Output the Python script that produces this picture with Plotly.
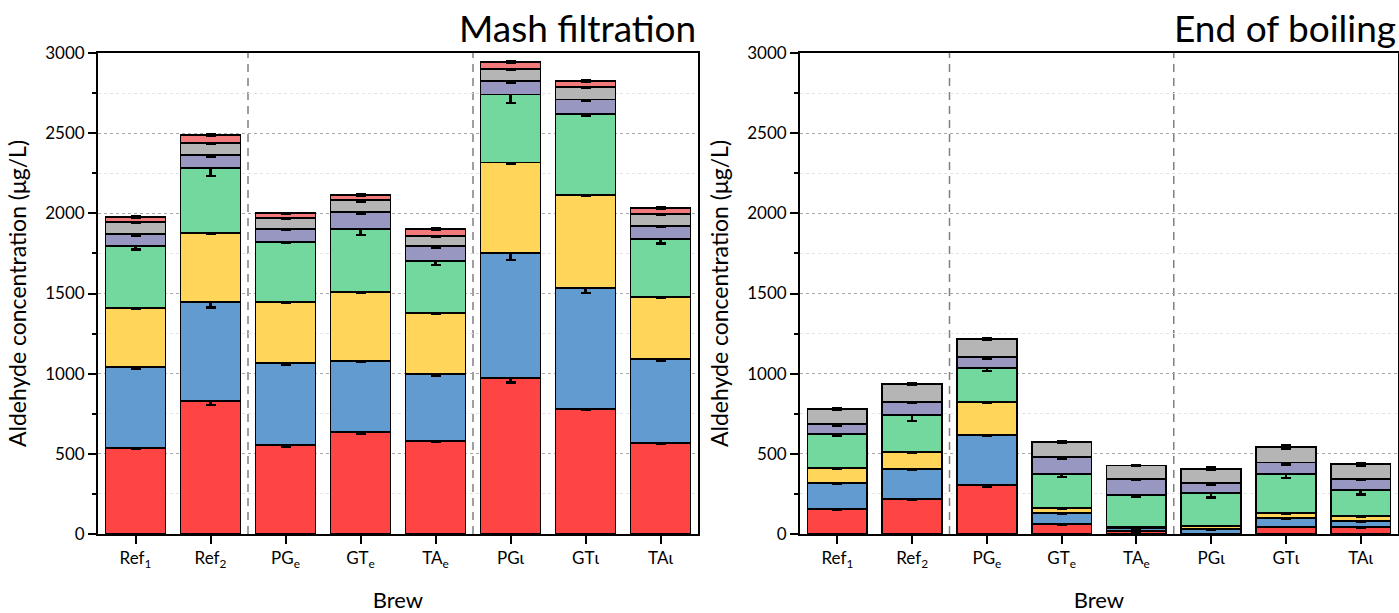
import plotly.graph_objects as go

# Brews (x categories) and tick labels
brews = ["Ref1", "Ref2", "PGe", "GTe", "TAe", "PGl", "GTl", "TAl"]
brew_labels = ["Ref<sub>1</sub>", "Ref<sub>2</sub>", "PG<sub>e</sub>", "GT<sub>e</sub>",
               "TA<sub>e</sub>", "PGι", "GTι", "TAι"]

# Stacked aldehyde contributions (µg/L), bottom to top
series_names = ["Aldehyde 1", "Aldehyde 2", "Aldehyde 3", "Aldehyde 4",
                "Aldehyde 5", "Aldehyde 6", "Aldehyde 7"]
series_colors = ["#FF4444", "#629BCF", "#FFD55A", "#72D89D", "#9797C2", "#B5B5B5", "#F27A7A"]

# Mash filtration
mash_values = [
    [536, 827, 557, 634, 582, 971, 782, 568],    # red
    [504, 620, 507, 447, 414, 779, 755, 523],    # blue
    [372, 433, 383, 426, 382, 567, 579, 385],    # yellow
    [383, 402, 375, 396, 322, 424, 503, 363],    # green
    [77, 84, 79, 107, 97, 83, 91, 84],           # purple
    [76, 75, 70, 71, 64, 79, 79, 73],            # grey
    [29, 46, 29, 35, 42, 43, 39, 35],            # pink
]
mash_errors = [
    [5, 22, 10, 12, 5, 27, 10, 8],
    [10, 34, 8, 5, 10, 41, 33, 12],
    [5, 8, 5, 5, 5, 8, 5, 5],
    [20, 48, 8, 37, 22, 51, 13, 28],
    [10, 12, 5, 12, 12, 12, 8, 10],
    [8, 8, 5, 10, 8, 10, 8, 8],
    [5, 5, 3, 5, 5, 5, 5, 5],
]

# End of boiling
boil_values = [
    [156, 219, 304, 60, 17, 3, 46, 42],
    [161, 187, 315, 69, 20, 28, 52, 41],
    [95, 104, 206, 31, 6, 21, 35, 27],
    [211, 232, 208, 215, 201, 202, 240, 165],
    [62, 83, 71, 106, 98, 63, 73, 69],
    [94, 112, 115, 92, 85, 89, 96, 91],
    [0, 0, 0, 0, 0, 0, 0, 0],
]
boil_errors = [
    [4, 6, 8, 5, 3, 2, 4, 4],
    [4, 6, 5, 4, 3, 3, 4, 4],
    [4, 4, 4, 4, 3, 3, 4, 4],
    [10, 38, 15, 20, 15, 27, 22, 28],
    [10, 8, 12, 15, 5, 8, 12, 8],
    [5, 5, 5, 5, 4, 8, 12, 8],
    [0, 0, 0, 0, 0, 0, 0, 0],
]

panel_titles = ["Mash filtration", "End of boiling"]
y_title = "Aldehyde concentration (μg/L)"
x_title = "Brew"

W, H = 1399, 613
FONT = "Lato"

fig = go.Figure()

for panel, (vals, errs) in enumerate([(mash_values, mash_errors), (boil_values, boil_errors)]):
    xa = "x" if panel == 0 else "x2"
    ya = "y" if panel == 0 else "y2"
    for name, color, v, e in zip(series_names, series_colors, vals, errs):
        fig.add_trace(go.Bar(
            x=brews, y=v, name=name, xaxis=xa, yaxis=ya,
            marker=dict(color=color, line=dict(color="black", width=1.9)),
            error_y=dict(type="data", array=e, color="black", thickness=2.4, width=5),
            showlegend=False,
        ))

# plot areas in pixels
left_px = [(98, 698), (800, 1398)]
top_px, bot_px = 53, 534
y_dom = [(H - bot_px) / H, (H - top_px) / H]

axis_common = dict(
    showline=True, linecolor="black", linewidth=1.8, mirror=True,
    ticks="outside", ticklen=8, tickwidth=1.5, tickcolor="black",
    tickfont=dict(family=FONT, size=17, color="black"),
    automargin=False,
)

for i, (l, r) in enumerate(left_px):
    sfx = "" if i == 0 else "2"
    fig.update_layout(**{
        "xaxis" + sfx: dict(
            domain=[l / W, r / W], anchor="y" + sfx,
            type="category", categoryorder="array", categoryarray=brews,
            tickvals=brews, ticktext=brew_labels,
            range=[-0.5, 7.5], showgrid=False,
            title=dict(text=x_title, font=dict(family=FONT, size=22, color="black"), standoff=24),
            **axis_common,
        ),
        "yaxis" + sfx: dict(
            domain=y_dom, anchor="x" + sfx,
            range=[0, 3000], dtick=500, tick0=0,
            showgrid=True, gridcolor="#a8a8a8", gridwidth=1, griddash="3px,3px",
            zeroline=False,
            minor=dict(dtick=250, ticks="outside", ticklen=4, tickcolor="black", tickwidth=1.5,
                       showgrid=True, gridcolor="#e4e4e4", griddash="dot", gridwidth=1),
            title=dict(text=y_title, font=dict(family=FONT, size=23, color="black"), standoff=12),
            **axis_common,
        ),
    })

    # group separators between reference, early and late brews
    for xpos in (1.5, 4.5):
        fig.add_shape(type="line", xref="x" + sfx, yref="y" + sfx + " domain",
                      x0=xpos, x1=xpos, y0=0, y1=1, layer="below",
                      line=dict(color="#808080", width=1.5, dash="8px,6px"))

    fig.add_annotation(
        text=panel_titles[i], xref="paper", yref="paper",
        x=(r) / W, y=(H - top_px + 1) / H, xanchor="right", yanchor="bottom",
        showarrow=False, font=dict(family=FONT, size=37, color="black"),
    )

fig.update_layout(
    width=W, height=H, barmode="stack", bargap=0.2,
    margin=dict(l=0, r=0, t=0, b=0),
    paper_bgcolor="white", plot_bgcolor="white",
    font=dict(family=FONT, color="black"),
)

fig.write_html("out.html")
